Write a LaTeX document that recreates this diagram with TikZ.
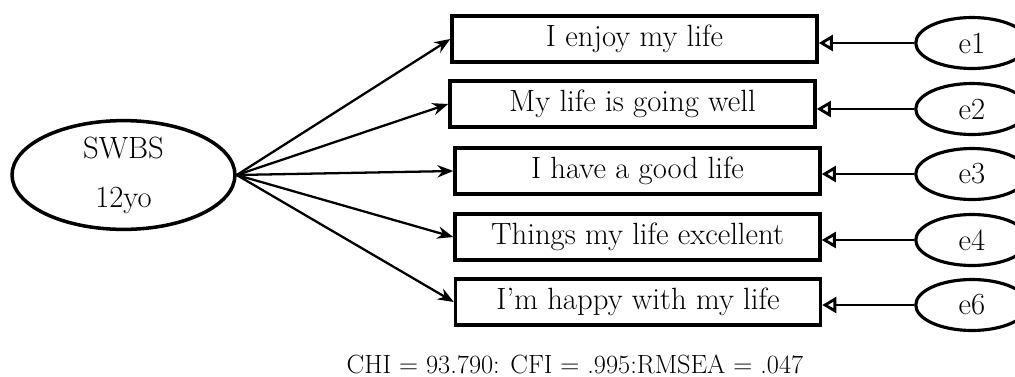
\documentclass[tikz,border=0pt]{standalone}
\usepackage{tikz}
\usetikzlibrary{shapes.geometric,arrows.meta}
\tikzset{
  itembox/.style={draw, line width=2pt, minimum width=7.3cm, minimum height=0.92cm, inner sep=0pt},
  errnode/.style={draw, line width=1.8pt, ellipse, minimum width=2.25cm, minimum height=1.02cm, inner sep=0pt},
  load/.style={line width=1.3pt, -{Stealth[length=9pt,width=7pt]}},
  errpath/.style={line width=1.5pt, -{Triangle[open,length=8pt,width=9pt,line width=1.6pt]}},
}
\begin{document}
\begin{tikzpicture}[x=0.02cm,y=-0.02cm,font=\fontsize{17.5}{20}\selectfont]
\path[use as bounding box, clip] (0,0) rectangle (1015,376);
% latent factor
\node[draw, line width=2pt, ellipse, minimum width=4.46cm, minimum height=2.06cm, align=center, inner sep=0pt] (swbs) at (123.5,175) {SWBS\\[8pt]12yo};
% items
\node[itembox] (i1) at (634.5,39) {I enjoy my life};
\node[itembox] (i2) at (632.5,104) {My life is going well};
\node[itembox] (i3) at (637.5,171) {I have a good life};
\node[itembox] (i4) at (637.5,237) {Things my life excellent};
\node[itembox] (i5) at (638,302) {I'm happy with my life};
% errors
\node[errnode] (e1) at (972,43) {e1};
\node[errnode] (e2) at (972,109) {e2};
\node[errnode] (e3) at (972,174) {e3};
\node[errnode] (e4) at (972,240) {e4};
\node[errnode] (e6) at (972,305) {e6};
% loadings
\draw[load] (swbs.east) -- (i1.west);
\draw[load] (swbs.east) -- (i2.west);
\draw[load] (swbs.east) -- (i3.west);
\draw[load] (swbs.east) -- (i4.west);
\draw[load] (swbs.east) -- (i5.west);
% error paths
\draw[errpath] (e1.west) -- (i1.east |- e1.west);
\draw[errpath] (e2.west) -- (i2.east |- e2.west);
\draw[errpath] (e3.west) -- (i3.east |- e3.west);
\draw[errpath] (e4.west) -- (i4.east |- e4.west);
\draw[errpath] (e6.west) -- (i5.east |- e6.west);
% fit indices
\node[anchor=base, inner sep=0pt, font=\fontsize{15}{18}\selectfont] (fit) at (575,373) {CHI = 93.790: CFI = .995:RMSEA = .047};
\end{tikzpicture}
\end{document}
